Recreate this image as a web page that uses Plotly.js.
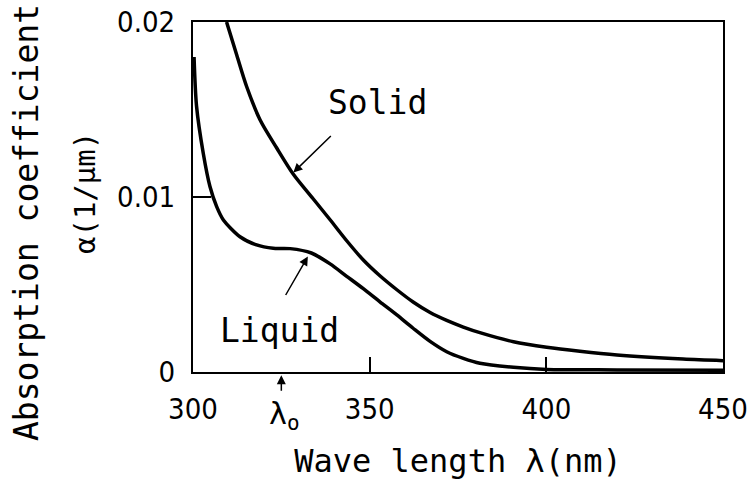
<!DOCTYPE html>
<html>
<head>
<meta charset="utf-8">
<script src="https://cdn.plot.ly/plotly-3.0.1.min.js"></script>
<style>
html, body { margin: 0; padding: 0; background: #fff; }
#chart { width: 749px; height: 487px; }
</style>
</head>
<body>
<div id="chart"></div>
<script>
// Data
const solidWavelength = [309.5, 312.4, 315.2, 319.0, 323.7, 328.4, 334.0, 338.8, 343.5, 348.2, 352.9, 357.7, 362.3, 367.1, 371.8, 376.5, 381.2, 390.7, 400.1, 409.5, 420, 438.7, 450];
const solidAlpha = [0.0200, 0.0181, 0.0163, 0.0144, 0.0128, 0.0113, 0.0099, 0.0087, 0.0075, 0.0064, 0.0055, 0.0047, 0.0040, 0.0034, 0.00295, 0.00257, 0.00225, 0.00173, 0.00141, 0.00118, 0.00097, 0.00074, 0.00065];

const liquidWavelength = [300.3, 301.0, 302.9, 304.8, 306.7, 308.6, 313.3, 318.0, 322.7, 327.5, 333.5, 338.8, 343.5, 348.2, 352.9, 357.7, 362.3, 367.1, 371.8, 376.5, 381.2, 390.7, 400.1, 420, 450];
const liquidAlpha = [0.0180, 0.0152, 0.0125, 0.0106, 0.00945, 0.00869, 0.00773, 0.00726, 0.00707, 0.00705, 0.0068, 0.00618, 0.00547, 0.00476, 0.00401, 0.00326, 0.0025, 0.00175, 0.00116, 0.00078, 0.0005, 0.00027, 0.00015, 0.00012, 0.0001];

const xTickVals = [300, 350, 400, 450];
const xTickText = ['300', '350', '400', '450'];
const yTickVals = [0, 0.01, 0.02];
const yTickText = ['0', '0.01', '0.02'];

const lambda0 = 325;

const MONO = '"DejaVu Sans Mono", "Liberation Mono", monospace';
const COND = '"DejaVu Sans Condensed", "Liberation Sans Narrow", "DejaVu Sans", sans-serif';

const traces = [
  { x: solidWavelength, y: solidAlpha, name: 'Solid', mode: 'lines',
    line: { color: '#000', width: 3.5, shape: 'spline', smoothing: 0.8 } },
  { x: liquidWavelength, y: liquidAlpha, name: 'Liquid', mode: 'lines',
    line: { color: '#000', width: 3.5, shape: 'spline', smoothing: 0.8 } }
];

const layout = {
  width: 749, height: 487,
  margin: { l: 193, r: 26, t: 22, b: 115 },
  paper_bgcolor: '#fff', plot_bgcolor: '#fff',
  showlegend: false,
  font: { family: MONO, color: '#000', size: 32 },
  xaxis: {
    range: [300, 450], tickvals: xTickVals, ticktext: xTickText,
    ticks: 'inside', ticklen: 15, tickwidth: 2, tickcolor: '#000',
    showline: true, linecolor: '#000', linewidth: 2, mirror: true,
    showgrid: false, zeroline: false,
    tickfont: { family: COND, size: 29, color: '#000' },
    ticklabelstandoff: 10, ticklabeloverflow: 'allow',
    title: { text: 'Wave length λ(nm)', font: { family: MONO, size: 32, color: '#000' }, standoff: 25 }
  },
  yaxis: {
    range: [0, 0.02], tickvals: yTickVals, ticktext: yTickText,
    ticks: 'inside', ticklen: 18, tickwidth: 2, tickcolor: '#000',
    showline: true, linecolor: '#000', linewidth: 2, mirror: true,
    showgrid: false, zeroline: false,
    tickfont: { family: COND, size: 29, color: '#000' },
    ticklabelstandoff: 10
  },
  annotations: [
    { xref: 'paper', yref: 'paper', x: -0.313, y: 0.426, xanchor: 'center', yanchor: 'middle',
      text: 'Absorption coefficient', textangle: -90, showarrow: false, font: { family: MONO, size: 33 } },
    { xref: 'paper', yref: 'paper', x: -0.204, y: 0.511, xanchor: 'center', yanchor: 'middle',
      text: 'α(1/μm)', textangle: -90, showarrow: false, font: { family: MONO, size: 29 } },
    { x: 352.3, y: 0.0154, xanchor: 'center', yanchor: 'middle', text: 'Solid', showarrow: false,
      font: { family: MONO, size: 33 } },
    { x: 328.4, y: 0.0114, text: '', showarrow: true, ax: 39, ay: -38,
      arrowhead: 2, arrowsize: 1.2, arrowwidth: 1.5, arrowcolor: '#000' },
    { x: 324.6, y: 0.0024, xanchor: 'center', yanchor: 'middle', text: 'Liquid', showarrow: false,
      font: { family: MONO, size: 33 } },
    { x: 332.5, y: 0.0066, text: '', showarrow: true, ax: -23, ay: 40,
      arrowhead: 2, arrowsize: 1.2, arrowwidth: 1.5, arrowcolor: '#000' },
    { x: lambda0, xref: 'x', yref: 'paper', y: -0.009, text: '', showarrow: true, ax: 0, ay: 17,
      arrowhead: 2, arrowsize: 1.2, arrowwidth: 1.5, arrowcolor: '#000' },
    { x: lambda0 + 0.8, xref: 'x', yref: 'paper', y: -0.125, xanchor: 'center', yanchor: 'middle',
      text: 'λ<sub>o</sub>', showarrow: false, font: { family: MONO, size: 30 } }
  ]
};

Plotly.newPlot('chart', traces, layout, { staticPlot: true, displayModeBar: false });
</script>
</body>
</html>
